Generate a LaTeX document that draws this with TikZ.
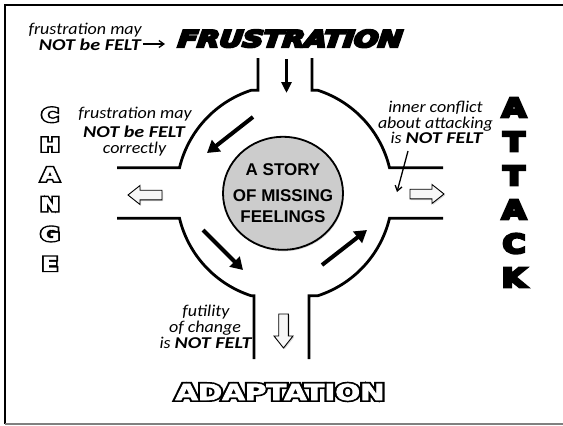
\documentclass[tikz,border=0pt]{standalone}
\usepackage{fontspec}
\setmainfont{Carlito}
\newfontfamily\circlefont{Liberation Sans}
\newfontfamily\heavyfont{DejaVu Sans Bold}[FakeBold=10]
\newfontfamily\heavyslant{DejaVu Sans Bold Oblique}[FakeBold=10,FakeSlant=0.08]
\newfontfamily\outerfont{DejaVu Sans Bold}[FakeBold=18]
\newfontfamily\innerfont{DejaVu Sans Bold}[FakeBold=3]
\usetikzlibrary{arrows.meta,calc,shadows,shapes.geometric}

\tikzset{
  road/.style={line width=2.8pt},
  flow/.style={line width=4pt, -{Triangle[length=12pt,width=14pt]}},
  thinflow/.style={line width=2.8pt, -{Triangle[length=11pt,width=10pt]}},
  pointer/.style={line width=1.3pt, -{Straight Barb[length=5pt,width=7pt]}},
  note/.style={font=\itshape\fontsize{16.5}{16.5}\selectfont, inner sep=0pt,
    text height=10pt, text depth=1pt},
  hollow/.style={draw=black, line width=0.9pt, fill=gray!6,
    drop shadow={shadow xshift=1.2pt, shadow yshift=-1.2pt, opacity=0.3}},
  blockarrow/.pic={\draw[hollow] (0,-4.8) -- (22,-4.8) -- (22,-9.5) -- (34,0)
     -- (22,9.5) -- (22,4.8) -- (0,4.8) -- cycle;},
  hubtext/.style={anchor=base, inner sep=0pt,
    font=\circlefont\bfseries\fontsize{17}{17}\selectfont},
  solidletter/.style={anchor=base, inner sep=0pt,
    font=\heavyfont\fontsize{26}{26}\selectfont},
  outletter/.style={anchor=base, inner sep=0pt, font=\fontsize{18.5}{18.5}\selectfont},
}
% white letters with a black rim: a heavily emboldened black copy under a white one
\newcommand{\hollowtext}[2][1.2]{\scalebox{#1}[1]{\rlap{\outerfont #2}{\color{white}\innerfont #2}}}
% note lines are set a little wide; their bold words wider still
\newcommand{\wideline}[1]{\scalebox{1.09}[1]{#1}}
\newcommand{\strongword}[1]{\scalebox{1.12}[1]{\bfseries #1}}

\begin{document}
\begin{tikzpicture}[x=1pt,y=-1pt]
\useasboundingbox (0,0) rectangle (563,426);

% frame
\draw[line width=1.8pt] (5,424) -- (5,5) -- (563,5);
\draw[line width=1.6pt, gray] (5,424) -- (563,424);

% roundabout
\coordinate (C) at (284.5,193);
\draw[road] (258,58) -- (258,90.3) -- ($(C)+(-108:108)$)
  arc[start angle=-108, end angle=-166.5, radius=108] -- (117,167.8);
\draw[road] (117,218.2) -- ($(C)+(-193.5:108)$)
  arc[start angle=-193.5, end angle=-252, radius=108] -- (254,295.7) -- (254,359);
\draw[road] (309,359) -- (309,295.7) -- ($(C)+(-288:108)$)
  arc[start angle=-288, end angle=-346.5, radius=108] -- (443,218.2);
\draw[road] (443,167.8) -- ($(C)+(-13.5:108)$)
  arc[start angle=-13.5, end angle=-72, radius=108] -- (312,90.3) -- (312,58);

% hub
\node[ellipse, draw, line width=1.8pt, fill=gray!40, minimum width=120pt,
  minimum height=113pt, inner sep=0pt,
  drop shadow={shadow xshift=0.8pt, shadow yshift=-1.5pt, opacity=0.35}]
  (hub) at (283,193.3) {};
\node[hubtext] (hubA) at (283,175) {A STORY};
\node[hubtext] (hubB) at (283,201.7) {OF MISSING};
\node[hubtext] (hubC) at (283,222) {FEELINGS};

% traffic flow
\coordinate (f0a) at (286.5,59);  \coordinate (f0b) at (286.5,93);
\coordinate (f1a) at (253,117);   \coordinate (f1b) at (207,153);
\coordinate (f2a) at (203,230);   \coordinate (f2b) at (243,270);
\coordinate (f3a) at (322,265);   \coordinate (f3b) at (367,230);
\draw[thinflow] (f0a) -- (f0b);
\draw[flow] (f1a) -- (f1b);
\draw[flow] (f2a) -- (f2b);
\draw[flow] (f3a) -- (f3b);

% exits
\pic (exitL) [rotate=180] at (162,195) {blockarrow};
\pic (exitR) at (410,194) {blockarrow};
\pic (exitD) [rotate=-90] at (283.5,314) {blockarrow};

% destinations
\node[anchor=base, inner sep=0pt, font=\heavyslant\fontsize{23}{23}\selectfont]
  (frus) at (289.5,47) {\scalebox{1.24}[1]{FRUSTRATION}};
\node[anchor=base, inner sep=0pt, font=\fontsize{22}{22}\selectfont]
  (adapt) at (280,400) {\hollowtext[1.33]{ADAPTATION}};
\foreach \l/\yb [count=\i] in {A/117,T/151,T/185,A/219,C/253,K/287}
  \node[solidletter] (att\i) at (514,\yb) {\scalebox{1.2}[1]{\l}};
\foreach \l/\yb [count=\i] in {C/121.5,H/151.3,A/181.1,N/210.9,G/240.7,E/270.5}
  \node[outletter] (chg\i) at (50,\yb) {\hollowtext[1.25]{\l}};

% notes
\node[note, anchor=base east] (n1a) at (142,34.5) {\wideline{frustration may}};
\node[note, anchor=base east] (n1b) at (141,50) {\wideline{\strongword{NOT be FELT}}};
\coordinate (p1a) at (143,44); \coordinate (p1b) at (165,44);
\draw[pointer] (p1a) -- (p1b);

\node[note, anchor=base] (n2a) at (135,118) {\wideline{frustration may}};
\node[note, anchor=base] (n2b) at (134,137) {\wideline{\strongword{NOT be FELT}}};
\node[note, anchor=base] (n2c) at (134.5,153) {\wideline{correctly}};

\node[note, anchor=base] (n3a) at (435.5,112) {\wideline{inner conflict}};
\node[note, anchor=base] (n3b) at (435.5,128) {\wideline{about attacking}};
\node[note, anchor=base] (n3c) at (436.5,143.5) {\wideline{is \strongword{NOT FELT}}};
\coordinate (p3a) at (408,151); \coordinate (p3b) at (397,192);
\draw[pointer] (p3a) -- (p3b);

\node[note, anchor=base] (n4a) at (206,316) {\wideline{futility}};
\node[note, anchor=base] (n4b) at (205,332) {\wideline{of change}};
\node[note, anchor=base] (n4c) at (205.5,348) {\wideline{is \strongword{NOT FELT}}};
\end{tikzpicture}
\end{document}
